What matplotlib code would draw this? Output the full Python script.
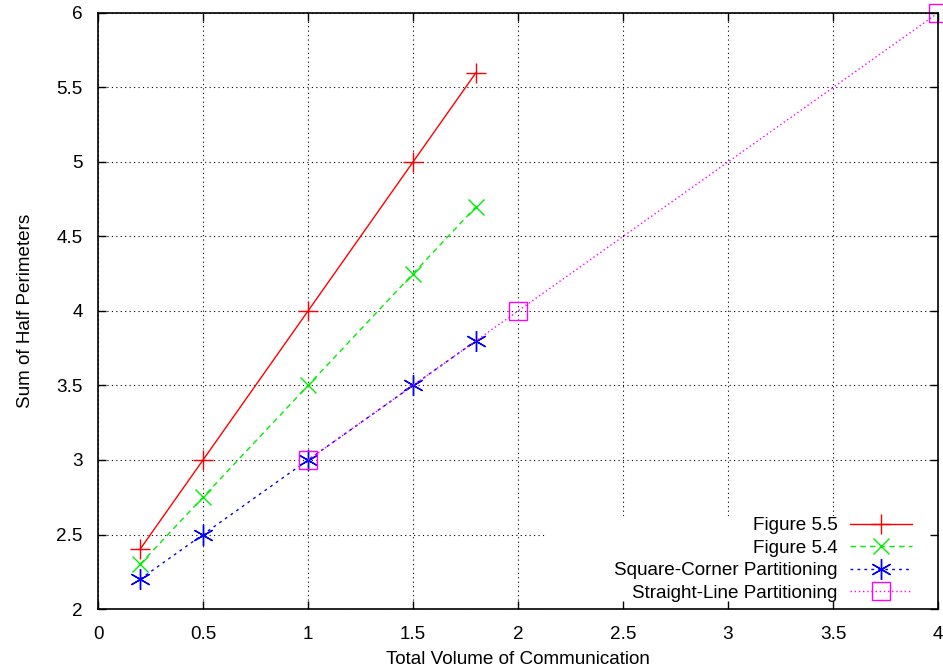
import matplotlib
matplotlib.use("Agg")
import matplotlib.pyplot as plt
from matplotlib.patches import Rectangle

x_fig55 = [0.2, 0.5, 1.0, 1.5, 1.8]
y_fig55 = [2.4, 3.0, 4.0, 5.0, 5.6]
x_fig54 = [0.2, 0.5, 1.0, 1.5, 1.8]
y_fig54 = [2.3, 2.75, 3.5, 4.25, 4.7]
x_square = [0.2, 0.5, 1.0, 1.5, 1.8]
y_square = [2.2, 2.5, 3.0, 3.5, 3.8]
x_straight = [1, 2, 4]
y_straight = [3, 4, 6]

xticks = [0, 0.5, 1, 1.5, 2, 2.5, 3, 3.5, 4]
xticklabels = ["0", "0.5", "1", "1.5", "2", "2.5", "3", "3.5", "4"]
yticks = [2, 2.5, 3, 3.5, 4, 4.5, 5, 5.5, 6]
yticklabels = ["2", "2.5", "3", "3.5", "4", "4.5", "5", "5.5", "6"]

plt.rcParams['font.family'] = ['Liberation Sans', 'DejaVu Sans']
FS = 13.6

fig = plt.figure(figsize=(9.43, 6.69), dpi=100)
pos = [98/943, 60/669, 840/943, 596/669]
ax = fig.add_axes(pos)

asterisk = (6, 2, 0)
ax.plot(x_fig55, y_fig55, color='#ff0000', lw=1, ls='-', marker='+', ms=14, mew=1,
        label='Figure 5.5', clip_on=False, zorder=3)
ax.plot(x_fig54, y_fig54, color='#00ee00', lw=1, ls=(0, (4, 3)), marker='x', ms=12, mew=1,
        label='Figure 5.4', clip_on=False, zorder=3)
ax.plot(x_square, y_square, color='#0000ff', lw=1, ls=(0, (2, 3)), marker=asterisk, ms=15, mew=1,
        label='Square-Corner Partitioning', clip_on=False, zorder=3)
ax.plot(x_straight, y_straight, color='#ff00ff', lw=1, ls=(0, (1, 2)), marker='s', ms=13, mew=1,
        mfc='none', label='Straight-Line Partitioning', clip_on=False, zorder=3)

ax.set_xlim(0, 4)
ax.set_ylim(2, 6)
ax.set_xticks(xticks)
ax.set_xticklabels(xticklabels)
ax.set_yticks(yticks)
ax.set_yticklabels(yticklabels)
ax.tick_params(direction='in', length=0, labelsize=FS)
ax.tick_params(axis='x', pad=12)
ax.tick_params(axis='y', pad=11)
ax.grid(True, color='black', ls=(0, (1, 3)), lw=0.8)
for s in ax.spines.values():
    s.set_visible(False)

# opaque key area (covers grid behind the key, like gnuplot)
ax.add_patch(Rectangle((447/840, 0), 1 - 447/840, 93/596, transform=ax.transAxes,
                       facecolor='white', edgecolor='none', zorder=2))

ax.set_xlabel('Total Volume of Communication', fontsize=FS, labelpad=6)
ax.set_ylabel('Sum of Half Perimeters', fontsize=FS, labelpad=16)

leg = ax.legend(loc='lower right', bbox_to_anchor=((912-98)/840, 7/596), markerfirst=False,
                frameon=False, fontsize=FS, handlelength=3.3, handletextpad=0.65,
                labelspacing=0.28, borderpad=0.0, borderaxespad=0.0)
leg.set_zorder(5)
for t in leg.get_texts():
    t.set_ha('right')
leg._legend_box.align = "right"

# overlay axes for border and mirrored inward ticks
ax2 = fig.add_axes(pos, zorder=10)
ax2.patch.set_visible(False)
ax2.set_xlim(0, 4)
ax2.set_ylim(2, 6)
ax2.set_xticks(xticks)
ax2.set_yticks(yticks)
ax2.tick_params(direction='in', top=True, right=True, length=6, width=1,
                labelbottom=False, labelleft=False)
for s in ax2.spines.values():
    s.set_linewidth(1.2)

fig.savefig('out.png', dpi=100)
